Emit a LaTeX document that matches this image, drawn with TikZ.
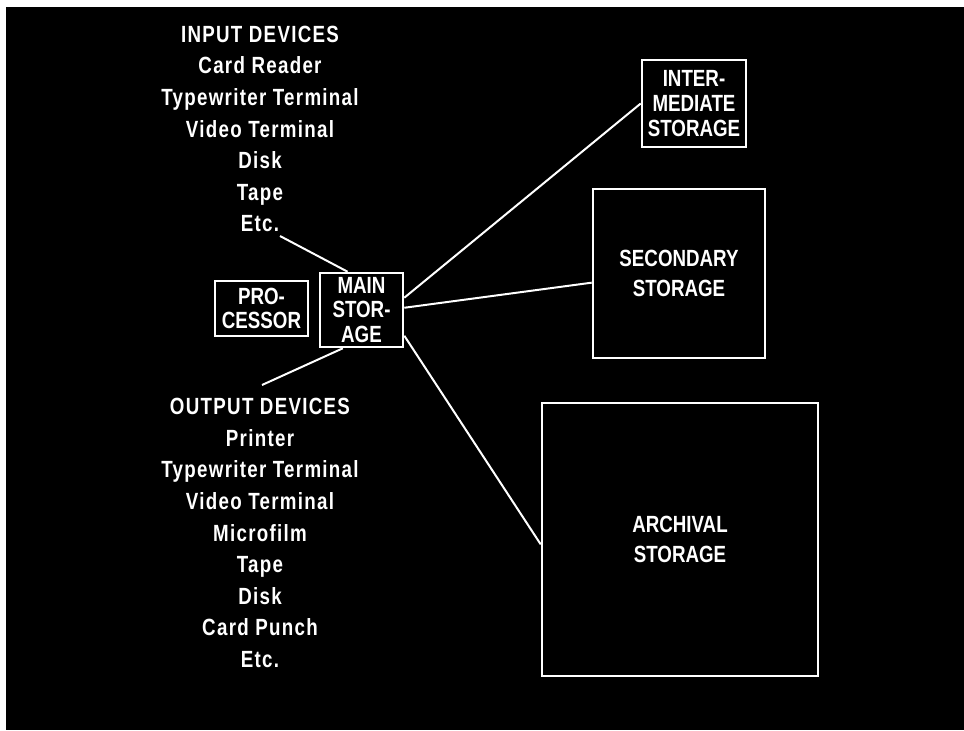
\documentclass[tikz,border=0pt]{standalone}
\usepackage{fontspec}
\setmainfont{Liberation Sans}[FakeStretch=0.8]
\newfontfamily\listfont{Liberation Sans}[FakeStretch=0.8, LetterSpace=5.5]
\usepackage{tikz}
\usetikzlibrary{positioning}

\begin{document}
\begin{tikzpicture}[
    x=0.03cm, y=-0.03cm,
    box/.style={
        draw=white,
        line width=2.2pt,
        align=center,
        text=white,
        font=\fontsize{20}{21}\selectfont\bfseries,
        inner sep=0pt
    },
    bigbox/.style={
        box,
        font=\fontsize{20}{26}\selectfont\bfseries
    },
    devlist/.style={
        align=center,
        text=white,
        font=\listfont\fontsize{20}{27}\selectfont\bfseries,
        inner sep=0pt
    },
    link/.style={draw=white, line width=1.7pt}
]
\useasboundingbox[fill=white] (0,0) rectangle (964,730);
\fill[black] (6,7) rectangle (964,730);

% device lists
\node[devlist] (inlist) at (260,129)
  {INPUT DEVICES\\Card Reader\\Typewriter Terminal\\Video Terminal\\Disk\\Tape\\Etc.};
\node[devlist] (outlist) at (260,533)
  {OUTPUT DEVICES\\Printer\\Typewriter Terminal\\Video Terminal\\Microfilm\\Tape\\Disk\\Card Punch\\Etc.};

% storage boxes
\node[box, minimum width=2.79cm, minimum height=1.65cm] (proc) at (261.5,308.5)
  {PRO-\\CESSOR};
\node[box, minimum width=2.49cm, minimum height=2.22cm] (main) at (361.5,310)
  {MAIN\\STOR-\\AGE};
\node[box, minimum width=3.12cm, minimum height=2.61cm] (inter) at (694,103.5)
  {INTER-\\MEDIATE\\STORAGE};
\node[bigbox, minimum width=5.16cm, minimum height=5.07cm] (second) at (679,273.5)
  {SECONDARY\\STORAGE};
\node[bigbox, minimum width=8.28cm, minimum height=8.19cm] (archive) at (680,539.5)
  {ARCHIVAL\\STORAGE};

\coordinate (inend) at (280,236);
\coordinate (outend) at (262,385);

\draw[link] (inend) -- (main.110);
\draw[link] (outend) -- (main.244);
\draw[link] (main.16) -- (inter.west);
\draw[link] (main.3) -- (second.186);
\draw[link] (main.329) -- (archive.182);

\end{tikzpicture}
\end{document}
